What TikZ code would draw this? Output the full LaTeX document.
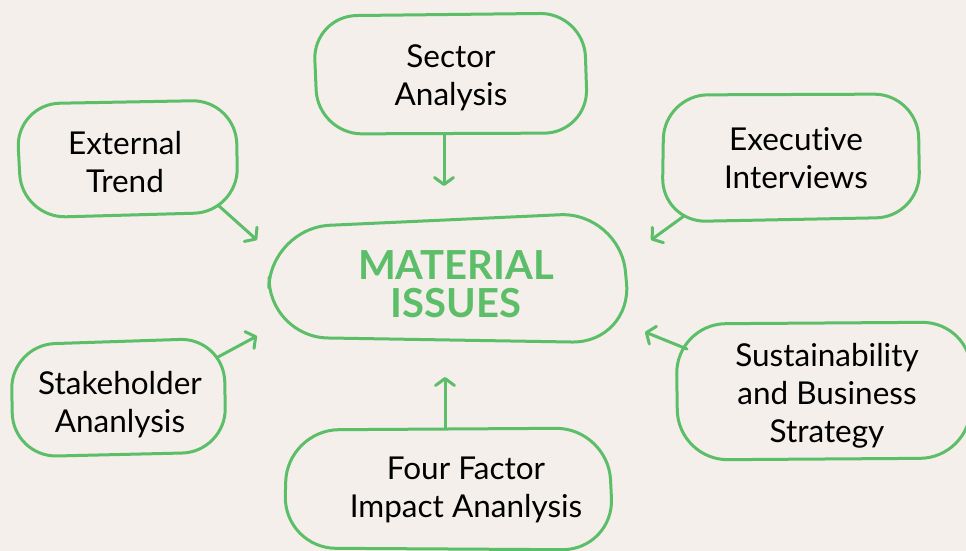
\documentclass[tikz,border=0pt]{standalone}
\usepackage{fontspec}
\setmainfont{Lato}[Ligatures={NoCommon,NoContextual}]
\usetikzlibrary{arrows.meta}
\definecolor{paper}{HTML}{F4EFEA}
\definecolor{leaf}{HTML}{5CBE68}
\begin{document}
\begin{tikzpicture}[x=1pt,y=-1pt,
  outline/.style={draw=leaf,line width=3pt,rounded corners=44pt,line join=round},
  label/.style={align=center,text=black,inner sep=0pt,font=\fontsize{31.5}{38}\selectfont},
  core/.style={align=center,text=leaf,inner sep=0pt,font=\fontsize{40}{38}\selectfont\bfseries},
  feed/.style={draw=leaf,line width=3pt,line cap=round,-{Straight Barb[length=7pt,width=19pt,line cap=round,line join=round]}}]
  % paper background and page frame
  \fill[paper] (0,0) rectangle (966,551);
  \useasboundingbox (0,0) rectangle (966,551);

  % hand-drawn outlines
  \draw[outline] (313,16) -- (584,13) -- (588,133) -- (318,134) -- cycle;           % sector
  \draw[outline] (16,104) -- (236,100) -- (238,212) -- (22,218) -- cycle;           % external
  \draw[outline] (664,95) -- (918,94) -- (920,217) -- (662,222) -- cycle;           % executive
  \draw[outline,rounded corners=60pt] (270,228) -- (620,212) -- (632,343) -- (268,337) -- cycle; % core
  \draw[outline] (11,345) -- (224,338) -- (226,452) -- (13,457) -- cycle;           % stakeholder
  \draw[outline,rounded corners=50pt] (676,324) -- (972,322) -- (970,458) -- (678,460) -- cycle; % sustainability
  \draw[outline,rounded corners=52pt] (287,430) -- (608,428) -- (614,550) -- (284,548) -- cycle; % four factor

  % texts
  \node[label] (sector) at (451,78) {Sector\\Analysis};
  \node[label] (external) at (125,162) {External\\Trend};
  \node[label] (exec) at (796,158) {Executive\\Interviews};
  \node[core] (core) at (456,284) {MATERIAL\\ISSUES};
  \node[label] (stake) at (120,405) {Stakeholder\\Ananlysis};
  \node[label] (sust) at (827,396) {Sustainability\\and Business\\Strategy};
  \node[label] (four) at (466,490) {Four Factor\\Impact Ananlysis};

  % connector ends
  \coordinate (sectorA) at (444,135);   \coordinate (sectorB) at (444,186);
  \coordinate (extA) at (219,206);      \coordinate (extB) at (257,240);
  \coordinate (execA) at (684,216);     \coordinate (execB) at (651,240);
  \coordinate (stakeA) at (218,357);    \coordinate (stakeB) at (257,336);
  \coordinate (sustA) at (687,349);     \coordinate (sustB) at (645,332);
  \coordinate (fourA) at (445,428);     \coordinate (fourB) at (445,377);

  \draw[feed] (sectorA) -- (sectorB);
  \draw[feed] (extA) -- (extB);
  \draw[feed] (execA) -- (execB);
  \draw[feed] (stakeA) -- (stakeB);
  \draw[feed] (sustA) -- (sustB);
  \draw[feed] (fourA) -- (fourB);
\end{tikzpicture}
\end{document}
